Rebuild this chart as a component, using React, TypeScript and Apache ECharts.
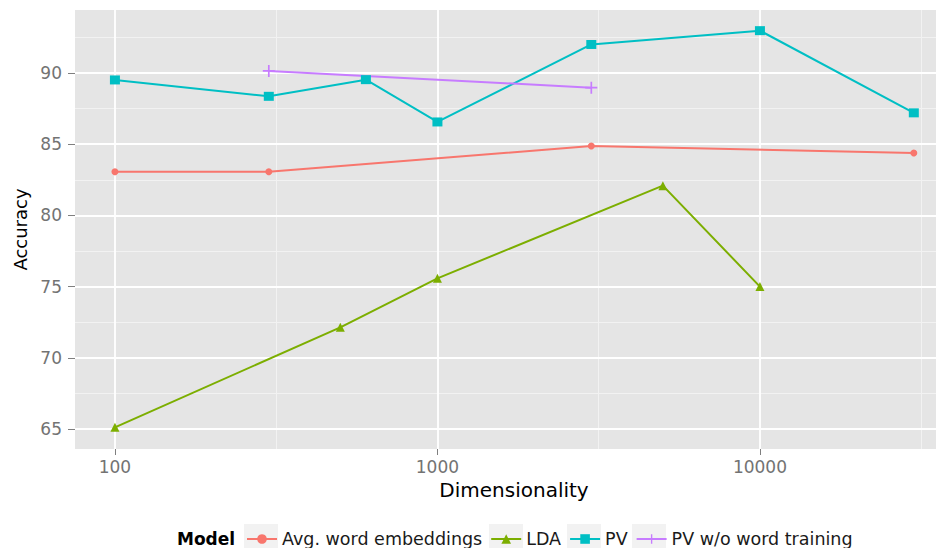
import React, { useEffect, useRef } from 'react';
import * as echarts from 'echarts';

// ---- data ----
const dimensionTicks = [100, 1000, 10000];
const accuracyTicks = [65, 70, 75, 80, 85, 90];
const minorDimLines = [316.23, 3162.3, 31623];
const minorAccLines = [67.5, 72.5, 77.5, 82.5, 87.5, 92.5];

const avgDims = [100, 300, 3000, 30000];
const avgAcc = [83.07, 83.07, 84.87, 84.38];
const ldaDims = [100, 500, 1000, 5000, 10000];
const ldaAcc = [65.12, 72.14, 75.58, 82.09, 75.0];
const pvDims = [100, 300, 600, 1000, 3000, 10000, 30000];
const pvAcc = [89.51, 88.36, 89.53, 86.56, 92.0, 92.97, 87.2];
const pvwDims = [300, 3000];
const pvwAcc = [90.14, 88.97];

const seriesNames = ['Avg. word embeddings', 'LDA', 'PV', 'PV w/o word training'];
const colors = ['#F8766D', '#7CAE00', '#00BFC4', '#C77CFF'];

const FONT = '"DejaVu Sans", "Liberation Sans", Arial, sans-serif';
const PLUS = 'path://M0,4.3H10V5.7H0Z M4.3,0H5.7V10H4.3Z';

function zip(xs: number[], ys: number[]) {
  return xs.map((x, i) => [x, ys[i]]);
}

export default function App() {
  const ref = useRef<HTMLDivElement>(null);
  useEffect(() => {
    if (!ref.current) return;
    const chart = echarts.init(ref.current, null, { renderer: 'svg' });

    const symbols: any[] = ['circle', 'triangle', 'rect', PLUS];
    const sizes: any[] = [7, 9, [10, 9], 12];
    const dataSets = [zip(avgDims, avgAcc), zip(ldaDims, ldaAcc), zip(pvDims, pvAcc), zip(pvwDims, pvwAcc)];

    const dataSeries = seriesNames.map((name, i) => ({
      name,
      type: 'line',
      data: dataSets[i],
      symbol: symbols[i],
      symbolSize: sizes[i],
      showSymbol: true,
      z: 3,
      color: colors[i],
      itemStyle: { color: colors[i], borderWidth: 0 },
      lineStyle: { color: colors[i], width: 2 },
    }));

    const gridLineSeries = {
      name: '__grid',
      type: 'line',
      data: [],
      silent: true,
      markLine: {
        silent: true,
        z: 1,
        symbol: 'none',
        label: { show: false },
        emphasis: { disabled: true },
        data: [
          ...minorDimLines.map((v) => ({ xAxis: v, lineStyle: { color: '#F2F2F2', width: 1, type: 'solid' } })),
          ...minorAccLines.map((v) => ({ yAxis: v, lineStyle: { color: '#F2F2F2', width: 1, type: 'solid' } })),
          ...dimensionTicks.map((v) => ({ xAxis: v, lineStyle: { color: '#FFFFFF', width: 1.8, type: 'solid' } })),
          ...accuracyTicks.map((v) => ({ yAxis: v, lineStyle: { color: '#FFFFFF', width: 1.8, type: 'solid' } })),
        ],
      },
    };

    const option: any = {
      animation: false,
      color: colors,
      grid: {
        left: 75,
        right: 0,
        top: 10,
        bottom: 99,
        show: true,
        backgroundColor: '#E5E5E5',
        borderWidth: 0,
      },
      xAxis: {
        type: 'log',
        logBase: 10,
        min: 75.2,
        max: 35150,
        name: 'Dimensionality',
        nameLocation: 'middle',
        nameGap: 25,
        nameTextStyle: { fontFamily: FONT, fontSize: 20, color: '#000', padding: [0, 0, 0, 17] },
        axisLine: { show: false },
        axisTick: { show: true, length: 6, customValues: dimensionTicks, lineStyle: { color: '#7F7F7F', width: 1 } },
        axisLabel: {
          customValues: dimensionTicks,
          margin: 9,
          fontFamily: FONT,
          fontSize: 17,
          color: '#737373',
          formatter: (v: number) => String(Math.round(v)),
        },
        splitLine: { show: false },
        minorSplitLine: { show: false },
      },
      yAxis: {
        type: 'value',
        min: 63.6,
        max: 94.42,
        name: 'Accuracy',
        nameLocation: 'middle',
        nameRotate: 90,
        nameGap: 39,
        nameTextStyle: { fontFamily: FONT, fontSize: 18, color: '#000' },
        axisLine: { show: false },
        axisTick: { show: true, length: 7, customValues: accuracyTicks, lineStyle: { color: '#7F7F7F', width: 1 } },
        axisLabel: {
          customValues: accuracyTicks,
          margin: 13,
          fontFamily: FONT,
          fontSize: 17,
          color: '#737373',
          formatter: (v: number) => String(Math.round(v)),
        },
        splitLine: { show: false },
      },
      legend: {
        data: seriesNames,
        left: 246,
        top: 530,
        padding: 0,
        orient: 'horizontal',
        itemWidth: 30,
        itemHeight: 12,
        itemGap: 8,
        selectedMode: false,
        textStyle: { fontFamily: FONT, fontSize: 17.5, color: '#1A1A1A' },
      },
      graphic: [
        { type: 'text', left: 177, top: 530, style: { text: 'Model', fontFamily: FONT, fontSize: 17, fontWeight: 'bold', fill: '#000' } },
        { type: 'rect', left: 244, top: 524, shape: { width: 34, height: 32 }, style: { fill: '#F2F2F2' }, z: -1 },
        { type: 'rect', left: 489, top: 524, shape: { width: 34, height: 32 }, style: { fill: '#F2F2F2' }, z: -1 },
        { type: 'rect', left: 567, top: 524, shape: { width: 34, height: 32 }, style: { fill: '#F2F2F2' }, z: -1 },
        { type: 'rect', left: 632, top: 524, shape: { width: 34, height: 32 }, style: { fill: '#F2F2F2' }, z: -1 },
      ],
      series: [gridLineSeries, ...dataSeries],
    };
    chart.setOption(option);
    return () => chart.dispose();
  }, []);
  return <div ref={ref} style={{ position: 'absolute', left: 0, top: 0, width: 936, height: 548 }} />;
}
